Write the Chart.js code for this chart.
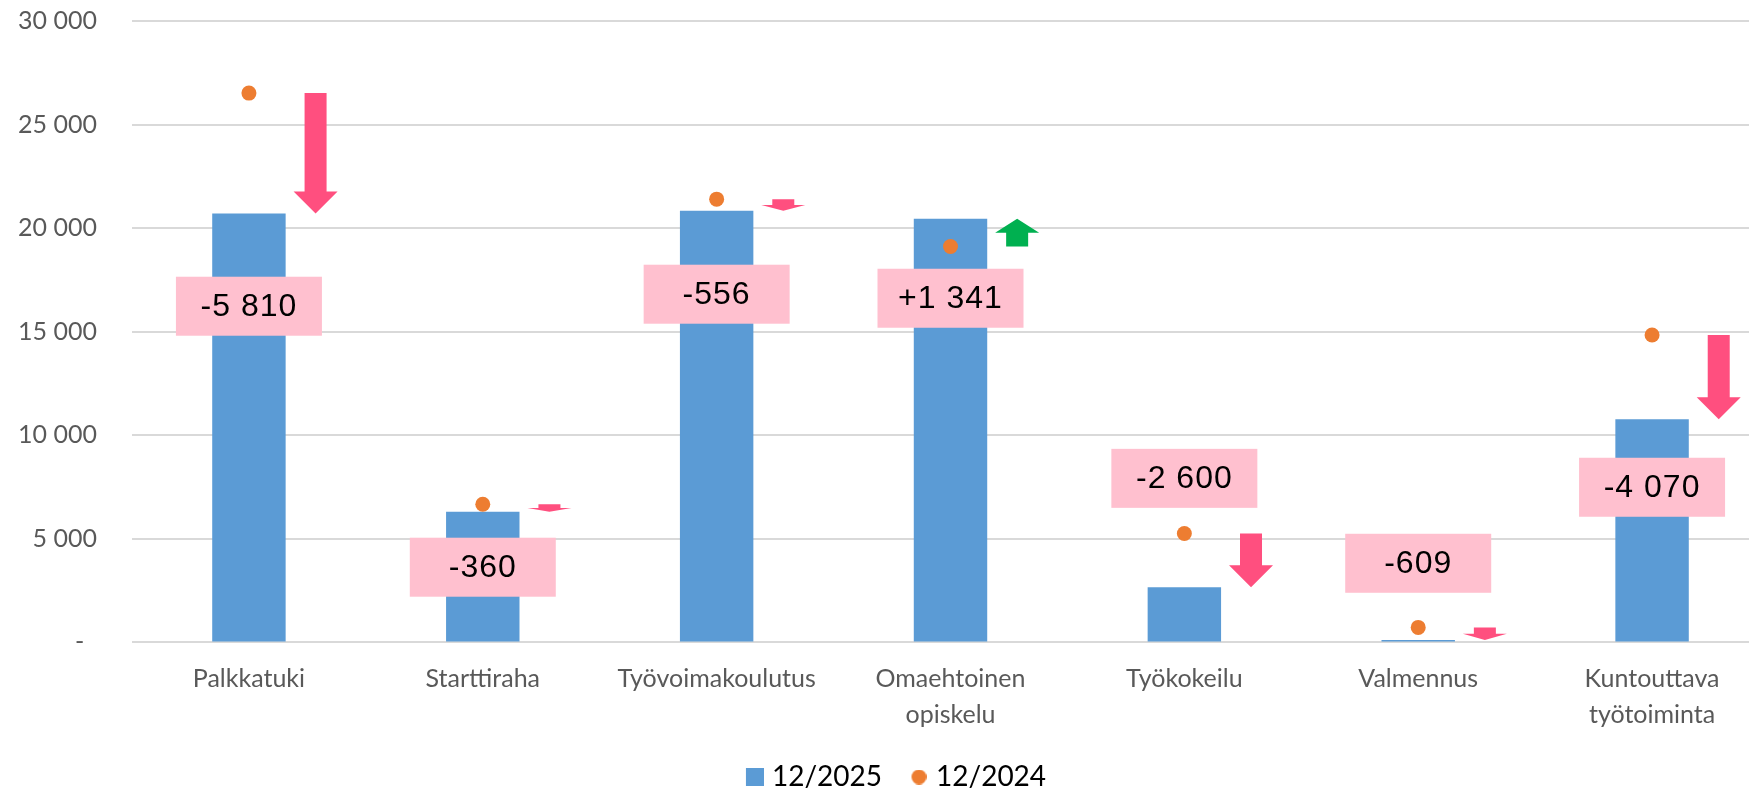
<!DOCTYPE html>
<html>
<head>
<meta charset="utf-8">
<script src="https://cdn.jsdelivr.net/npm/chart.js@4/dist/chart.umd.min.js"></script>
<style>
  html, body { margin: 0; padding: 0; background: #fff; overflow: hidden; }
  #wrap { width: 1816px; height: 791px; }
</style>
</head>
<body>
<div id="wrap"><canvas id="chart"></canvas></div>
<script>
const categories = ["Palkkatuki", "Starttiraha", "Työvoimakoulutus", ["Omaehtoinen", "opiskelu"], "Työkokeilu", "Valmennus", ["Kuntouttava", "työtoiminta"]];
const values2025 = [20710, 6310, 20844, 20451, 2660, 116, 10770];
const values2024 = [26520, 6670, 21400, 19110, 5260, 725, 14840];
// where the change boxes sit, in axis units
const labelAnchor = [16230, 3630, 16810, 16615, 7920, 3820, 7490];
const yTicks = [0, 5000, 10000, 15000, 20000, 25000, 30000];

function groupThousands(n) {
    return String(Math.abs(n)).replace(/\B(?=(\d{3})+(?!\d))/g, " ");
}

function formatChange(d) {
    return (d > 0 ? "+" : "-") + groupThousands(d);
}

// legend swatch, pushed to the right so it sits closer to its text
function swatch(shape, color, size) {
    const shift = 12;
    const c = document.createElement("canvas");
    c.width = size + shift;
    c.height = size;
    const g = c.getContext("2d");
    g.fillStyle = color;
    if (shape === "rect") {
        g.fillRect(shift, 0, size, size);
    } else {
        g.beginPath();
        g.arc(shift + size / 2, size / 2, size / 2, 0, Math.PI * 2);
        g.fill();
    }
    return c;
}

function drawArrow(ctx, x, yFrom, yTo, color) {
    const len = Math.abs(yTo - yFrom);
    const dir = yTo > yFrom ? 1 : -1;
    const head = Math.min(22, len / 2);
    const yNeck = yTo - dir * head;
    ctx.fillStyle = color;
    ctx.beginPath();
    ctx.moveTo(x - 11, yFrom);
    ctx.lineTo(x + 11, yFrom);
    ctx.lineTo(x + 11, yNeck);
    ctx.lineTo(x + 22, yNeck);
    ctx.lineTo(x, yTo);
    ctx.lineTo(x - 22, yNeck);
    ctx.lineTo(x - 11, yNeck);
    ctx.closePath();
    ctx.fill();
}

const changeMarks = {
    id: "changeMarks",
    afterDatasetsDraw(chart) {
        const { ctx, scales: { x, y } } = chart;
        const step = x.getPixelForValue(1) - x.getPixelForValue(0);
        ctx.save();
        categories.forEach((c, i) => {
            const change = values2025[i] - values2024[i];
            drawArrow(ctx, x.getPixelForValue(i) + step * 0.285,
                y.getPixelForValue(values2024[i]), y.getPixelForValue(values2025[i]),
                change < 0 ? "#FF4F7F" : "#00B050");

            const cx = x.getPixelForValue(i);
            const cy = y.getPixelForValue(labelAnchor[i]);
            ctx.fillStyle = "#FFC0CF";
            ctx.fillRect(cx - 73, cy - 29.5, 146, 59);
            ctx.fillStyle = "#000";
            ctx.font = '32px "Liberation Sans"';
            ctx.letterSpacing = "1px";
            ctx.textAlign = "center";
            ctx.textBaseline = "middle";
            ctx.fillText(formatChange(change), cx, cy + 1);
        });
        ctx.restore();
    }
};

Chart.defaults.font.family = "Lato";
Chart.defaults.color = "#595959";

const ctx = document.getElementById("chart").getContext("2d");
new Chart(ctx, {
    type: "bar",
    data: {
        labels: categories,
        datasets: [{
            label: "12/2025",
            data: values2025,
            backgroundColor: "#5B9BD5",
            barPercentage: 0.314,
            categoryPercentage: 1,
            order: 1
        }, {
            type: "line",
            label: "12/2024",
            data: values2024,
            showLine: false,
            pointRadius: 7.5,
            pointBackgroundColor: "#ED7D31",
            pointBorderWidth: 0,
            order: 0
        }]
    },
    options: {
        responsive: true,
        maintainAspectRatio: false,
        animation: false,
        layout: { padding: { top: 21, left: 17, right: 47, bottom: 0 } },
        plugins: {
            tooltip: { enabled: false },
            legend: {
                position: "bottom",
                maxHeight: 50,
                labels: {
                    usePointStyle: true,
                    pointStyleWidth: 18,
                    padding: 22,
                    font: { size: 28 },
                    color: "#595959",
                    generateLabels: () => [
                        { text: "12/2025", pointStyle: swatch("rect", "#5B9BD5", 18), datasetIndex: 0, lineWidth: 0, strokeStyle: "transparent" },
                        { text: "12/2024", pointStyle: swatch("circle", "#ED7D31", 15), datasetIndex: 1, lineWidth: 0, strokeStyle: "transparent" }
                    ]
                }
            }
        },
        scales: {
            x: {
                grid: { display: false, drawTicks: false },
                border: { display: false },
                ticks: {
                    font: { size: 25, lineHeight: 1.44 },
                    color: "#595959",
                    padding: 19,
                    maxRotation: 0,
                    autoSkip: false
                },
                afterFit: s => { s.height = 98.6; }
            },
            y: {
                min: 0,
                max: 30000,
                grid: { color: "#D9D9D9", lineWidth: 2, drawTicks: false },
                border: { display: false },
                afterBuildTicks: s => { s.ticks = yTicks.map(v => ({ value: v })); },
                ticks: {
                    font: { size: 25 },
                    color: "#595959",
                    padding: 35,
                    callback: v => v === 0 ? "-  " : groupThousands(v)
                },
                afterFit: s => {
                    s.width = 115;
                    s.paddingTop = 15;
                    s.paddingBottom = 15;
                }
            }
        }
    },
    plugins: [changeMarks]
});
</script>
</body>
</html>
